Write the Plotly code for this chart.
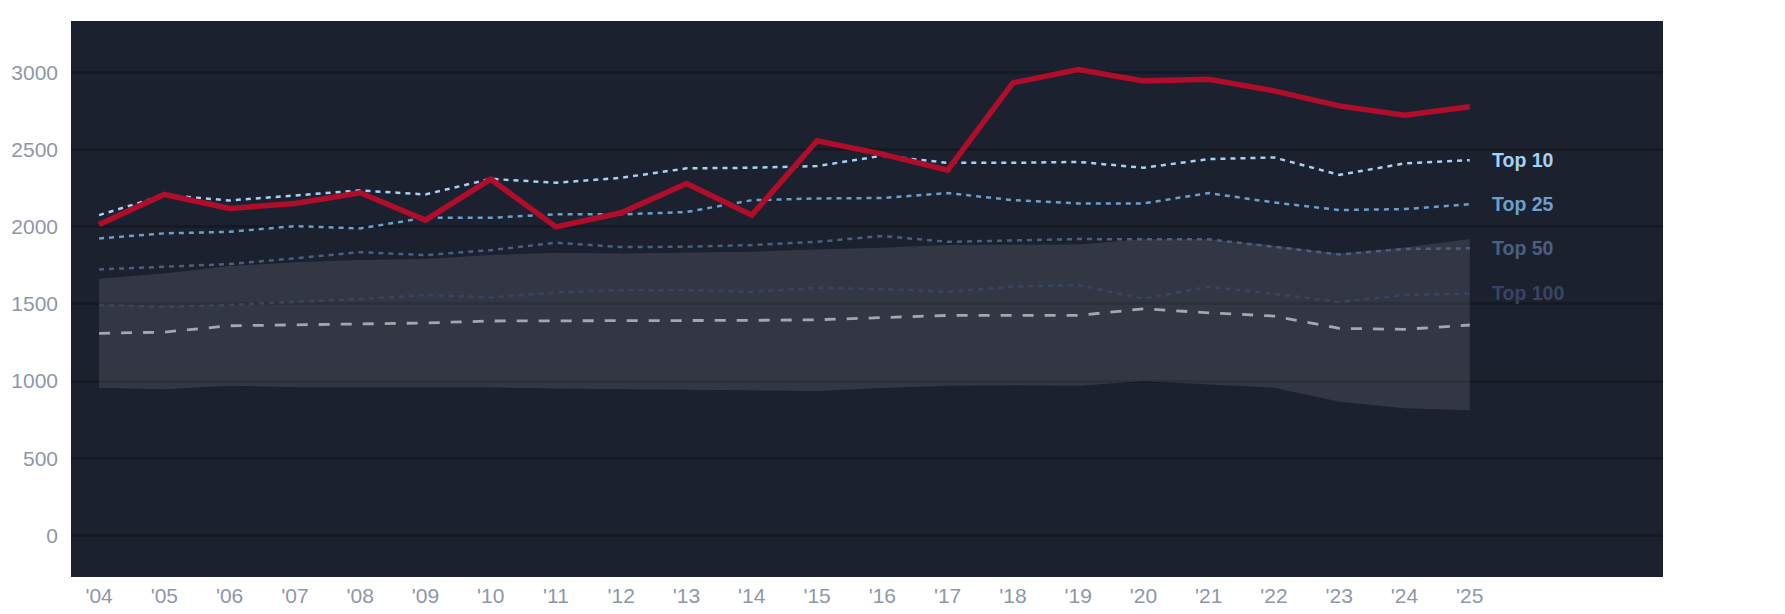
import plotly.graph_objects as go

years = list(range(2004, 2026))
year_labels = ["'%02d" % (y % 100) for y in years]

# main (red) series
main_line = [2015, 2209, 2118, 2151, 2220, 2043, 2308, 1999, 2090, 2280, 2075,
             2557, 2470, 2366, 2932, 3019, 2945, 2956, 2880, 2783, 2723, 2777]

top10 = [2075, 2205, 2170, 2203, 2235, 2209, 2310, 2285, 2317, 2378, 2382,
         2393, 2460, 2414, 2414, 2420, 2382, 2438, 2449, 2336, 2410, 2431]
top25 = [1924, 1957, 1967, 2004, 1989, 2058, 2058, 2080, 2080, 2095, 2172,
         2183, 2186, 2218, 2172, 2151, 2151, 2218, 2157, 2108, 2114, 2146]
top50 = [1723, 1740, 1758, 1795, 1835, 1816, 1848, 1896, 1868, 1870, 1881,
         1902, 1940, 1902, 1913, 1920, 1918, 1918, 1870, 1820, 1856, 1860]
top100 = [1492, 1481, 1492, 1514, 1531, 1557, 1542, 1574, 1589, 1589, 1578,
          1604, 1596, 1578, 1611, 1622, 1533, 1611, 1565, 1512, 1557, 1568]

# gray dashed line
median = [1309, 1317, 1358, 1365, 1369, 1376, 1389, 1389, 1389, 1393, 1393,
          1397, 1413, 1425, 1425, 1425, 1468, 1442, 1421, 1341, 1335, 1363]

# shaded band
band_hi = [1663, 1697, 1745, 1769, 1784, 1790, 1816, 1831, 1827, 1834, 1838,
           1853, 1863, 1881, 1881, 1885, 1918, 1918, 1878, 1827, 1866, 1920]
band_lo = [957, 946, 970, 959, 959, 961, 959, 952, 946, 944, 940,
           935, 955, 970, 972, 970, 998, 979, 957, 866, 823, 810]

tier_names = ["Top 10", "Top 25", "Top 50", "Top 100"]
tier_values = [top10, top25, top50, top100]
tier_colors = ["#a7d1f2", "#6d9fcb", "#4c5f80", "#394560"]

fig = go.Figure()

fig.add_trace(go.Scatter(x=years, y=band_lo, mode="lines",
                         line=dict(width=0), hoverinfo="skip", showlegend=False))
fig.add_trace(go.Scatter(x=years, y=band_hi, mode="lines",
                         line=dict(width=0), fill="tonexty",
                         fillcolor="rgba(255,255,255,0.10)",
                         hoverinfo="skip", showlegend=False))

# lower tiers first so the brighter ones sit on top
for name, vals, col in reversed(list(zip(tier_names, tier_values, tier_colors))):
    fig.add_trace(go.Scatter(x=years, y=vals, mode="lines", name=name,
                             line=dict(color=col, width=2.5, dash="5px,5px"),
                             showlegend=False))
    if name == "Top 50":
        fig.add_trace(go.Scatter(x=years, y=median, mode="lines", name="median",
                                 line=dict(color="#a3a7af", width=2.8, dash="11px,11px"),
                                 showlegend=False))

fig.add_trace(go.Scatter(x=years, y=main_line, mode="lines", name="main",
                         line=dict(color="#b00d2a", width=5.5), showlegend=False))

for name, vals, col in zip(tier_names, tier_values, tier_colors):
    fig.add_annotation(x=years[-1], y=vals[-1], text="<b>%s</b>" % name,
                       showarrow=False, xanchor="left", yanchor="middle",
                       xshift=20, font=dict(size=19.5, color=col))

# page body adds an 8px margin, so the figure is a bit smaller than the window
fig.update_layout(
    width=1769, height=598,
    margin=dict(l=63, r=114, t=13, b=29),
    paper_bgcolor="white",
    plot_bgcolor="#1c2130",
    font=dict(family="Arial, Liberation Sans, sans-serif", size=21, color="#8e97a8"),
    showlegend=False,
)
fig.update_xaxes(range=[2003.57, 2027.96], tickvals=years, ticktext=year_labels,
                 showgrid=False, zeroline=False, showline=False,
                 ticklabelstandoff=4, automargin=False)
fig.update_yaxes(range=[-270, 3333], tickvals=[0, 500, 1000, 1500, 2000, 2500, 3000],
                 gridcolor="#151924", gridwidth=2.5, zeroline=False, showline=False,
                 ticklabelstandoff=12, automargin=False)

fig.write_html("out.html")
